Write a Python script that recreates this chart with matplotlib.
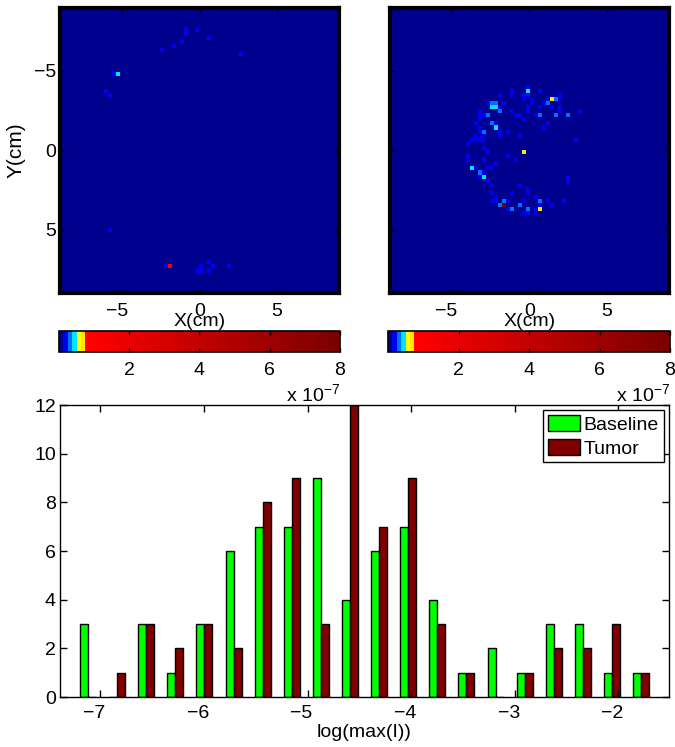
####################################################

# Load modules

import numpy as np
from matplotlib import pyplot as plt
from matplotlib.colors import ListedColormap, to_rgb
from matplotlib.transforms import ScaledTranslation

####################################################

# Data

bin_centers = [-7.12, -6.84, -6.56, -6.28, -6.00, -5.71, -5.43, -5.15, -4.87, -4.59,
               -4.31, -4.03, -3.75, -3.47, -3.18, -2.90, -2.62, -2.34, -2.06, -1.78]
baseline_counts = [3, 0, 3, 1, 3, 6, 7, 7, 9, 4, 6, 7, 4, 1, 2, 1, 3, 3, 1, 1]
tumor_counts = [0, 1, 3, 2, 3, 2, 8, 9, 3, 12, 7, 9, 3, 1, 0, 1, 2, 2, 3, 1]

series_names = ["Baseline", "Tumor"]
bar_ticks = [-7, -6, -5, -4, -3, -2]
count_ticks = [0, 2, 4, 6, 8, 10, 12]
map_ticks = [-5, 0, 5]
cbar_ticks = [2, 4, 6, 8]

# image cells as (row, col, value) on a 70 x 70 grid, everything else is 0
baseline_cells = [
    (5, 31, 0.2), (6, 31, 0.2), (5, 34, 0.2), (7, 37, 0.2), (8, 30, 0.2),
    (9, 28, 0.2), (10, 25, 0.2), (11, 45, 0.2), (16, 13, 0.2), (16, 14, 0.45),
    (20, 11, 0.2), (21, 12, 0.2), (54, 12, 0.2), (63, 26, 0.2), (63, 27, 1.0),
    (62, 37, 0.2), (63, 35, 0.2), (63, 38, 0.2), (63, 42, 0.2), (64, 34, 0.2),
    (64, 35, 0.2), (64, 37, 0.2),
]

tumor_cells = [
    (19, 34, 0.2),
    (20, 30, 0.2), (20, 34, 0.45), (20, 37, 0.2),
    (21, 27, 0.2), (21, 30, 0.2), (21, 33, 0.2), (21, 34, 0.2), (21, 42, 0.2),
    (22, 33, 0.2), (22, 35, 0.2), (22, 39, 0.2), (22, 40, 0.7), (22, 41, 0.3), (22, 42, 0.2),
    (23, 24, 0.2), (23, 25, 0.3), (23, 26, 0.3), (23, 28, 0.2), (23, 35, 0.2), (23, 38, 0.2), (23, 39, 0.3),
    (24, 25, 0.45), (24, 26, 0.45), (24, 27, 0.2), (24, 34, 0.2), (24, 37, 0.2), (24, 40, 0.2), (24, 42, 0.2),
    (25, 22, 0.2), (25, 27, 0.3), (25, 30, 0.2), (25, 34, 0.2), (25, 42, 0.2), (25, 47, 0.2),
    (26, 22, 0.2), (26, 23, 0.2), (26, 24, 0.3), (26, 31, 0.2), (26, 32, 0.2), (26, 36, 0.2), (26, 37, 0.3), (26, 41, 0.3), (26, 44, 0.3),
    (27, 22, 0.2), (27, 33, 0.2),
    (28, 21, 0.2), (28, 25, 0.3), (28, 26, 0.2), (28, 39, 0.2),
    (29, 22, 0.2), (29, 26, 0.45), (29, 38, 0.2),
    (30, 22, 0.2), (30, 23, 0.3), (30, 27, 0.2), (30, 29, 0.2),
    (31, 21, 0.2), (31, 23, 0.2), (31, 27, 0.2), (31, 32, 0.2),
    (32, 20, 0.2), (32, 21, 0.2), (32, 22, 0.2), (32, 23, 0.2), (32, 46, 0.2),
    (33, 19, 0.2),
    (34, 23, 0.2),
    (35, 24, 0.2), (35, 33, 0.7),
    (36, 19, 0.2), (36, 29, 0.2),
    (37, 19, 0.2), (37, 23, 0.2), (37, 31, 0.2),
    (38, 26, 0.2),
    (39, 20, 0.45), (39, 21, 0.2), (39, 24, 0.2), (39, 25, 0.2),
    (40, 22, 0.3), (40, 23, 0.2),
    (41, 22, 0.2), (41, 23, 0.45), (41, 44, 0.2),
    (42, 24, 0.2), (42, 44, 0.2),
    (43, 25, 0.2), (43, 32, 0.2),
    (44, 34, 0.2),
    (45, 25, 0.2), (45, 30, 0.2), (45, 34, 0.2),
    (46, 26, 0.2), (46, 36, 0.2),
    (47, 25, 0.2), (47, 26, 0.2), (47, 28, 0.3), (47, 29, 0.2), (47, 33, 0.2), (47, 37, 0.3), (47, 39, 0.2), (47, 43, 0.2),
    (48, 27, 0.3), (48, 28, 8.0), (48, 32, 0.3), (48, 37, 0.2), (48, 40, 0.2),
    (49, 29, 0.2), (49, 30, 0.3), (49, 34, 0.3), (49, 36, 0.2), (49, 37, 0.7),
    (50, 33, 0.2), (50, 34, 0.2), (50, 36, 0.2),
]

####################################################

plt.rcParams['font.family'] = ['Liberation Sans', 'DejaVu Sans']
plt.rcParams['mathtext.default'] = 'regular'
plt.rcParams['axes.unicode_minus'] = True

W, H = 675, 747
fig = plt.figure(figsize=(W / 100, H / 100), dpi=100)


def box(x0, y0, x1, y1):
    # pixel box from the top left corner to a figure axes
    return fig.add_axes([x0 / W, 1 - y1 / H, (x1 - x0) / W, (y1 - y0) / H])


def shift_negative_labels(ax, ticks, px):
    # the minus sign hangs left of the tick in the reference
    fig.canvas.draw()
    for tick, lab in zip(ticks, ax.get_xticklabels()):
        if tick < 0:
            lab.set_transform(lab.get_transform() + ScaledTranslation(-px / 100, 0, fig.dpi_scale_trans))


# jet squeezed in the first 6 of 64 levels, red ramp after that
low_colors = ["#00008f", "#0000ee", "#0070ff", "#00e4ff", "#ffff10", "#ffe800"]
red = np.array(to_rgb("#ff0000"))
dark = np.array(to_rgb("#7a0000"))
ramp = [tuple(red + (dark - red) * t) for t in np.linspace(0, 1, 58)]
cmap = ListedColormap(low_colors + ramp)


def draw_map(cells, x0, x1, cx0, cx1, ylabel):
    img = np.zeros((70, 70))
    for row, col, val in cells:
        img[row, col] = val
    ax = box(x0, 7.5, x1, 293)
    im = ax.imshow(img, cmap=cmap, vmin=0, vmax=8, extent=[-9, 9, 9, -9],
                   aspect='auto', interpolation='nearest')
    ax.set_xticks(map_ticks)
    ax.set_yticks(map_ticks)
    ax.tick_params(direction='in', top=True, right=True, length=3, width=1, labelsize=14)
    ax.tick_params(axis='x', pad=7)
    ax.tick_params(axis='y', pad=3)
    for s in ax.spines.values():
        s.set_linewidth(3)
    ax.set_xlabel("X(cm)", fontsize=14, labelpad=-5)
    if ylabel:
        ax.set_ylabel("Y(cm)", fontsize=15, labelpad=6)
    else:
        ax.set_yticklabels([])
    shift_negative_labels(ax, map_ticks, 5)

    cax = box(cx0, 331, cx1, 352)
    cb = fig.colorbar(im, cax=cax, orientation='horizontal')
    cb.set_ticks(cbar_ticks)
    cb.ax.tick_params(direction='in', top=True, length=3, width=1, labelsize=14, pad=7)
    cb.outline.set_linewidth(1.2)
    fig.text(cx1 / W, 1 - 405 / H, r"x 10$^{-7}$", fontsize=14, ha='right', va='bottom')


draw_map(baseline_cells, 60, 339, 59, 340, True)
draw_map(tumor_cells, 389.5, 669, 388, 670, False)

####################################################

# histogram below

ax = box(60, 405, 669, 697)
centers = np.array(bin_centers)
bar_w = 0.0775
ax.bar(centers - bar_w / 2, baseline_counts, bar_w, color="#00ff00", edgecolor="black",
       linewidth=1, label=series_names[0])
ax.bar(centers + bar_w / 2, tumor_counts, bar_w, color="#800000", edgecolor="black",
       linewidth=1, label=series_names[1])
ax.set_xlim(-7.39, -1.51)
ax.set_ylim(0, 12)
ax.set_xticks(bar_ticks)
ax.set_yticks(count_ticks)
ax.tick_params(direction='in', top=True, right=True, length=5, width=1, labelsize=14)
ax.tick_params(axis='x', pad=6)
ax.tick_params(axis='y', pad=3)
for s in ax.spines.values():
    s.set_linewidth(1)
ax.set_xlabel("log(max(I))", fontsize=14, labelpad=1)
shift_negative_labels(ax, bar_ticks, 6)

leg = ax.legend(loc='upper right', bbox_to_anchor=(0.9915, 0.982), fontsize=14, fancybox=False,
                framealpha=1, edgecolor="black", borderaxespad=0, handlelength=1.65,
                handleheight=0.9, labelspacing=0.25, handletextpad=0.2, borderpad=0.25)
leg.get_frame().set_linewidth(1)

fig.savefig("out.png", dpi=100)
